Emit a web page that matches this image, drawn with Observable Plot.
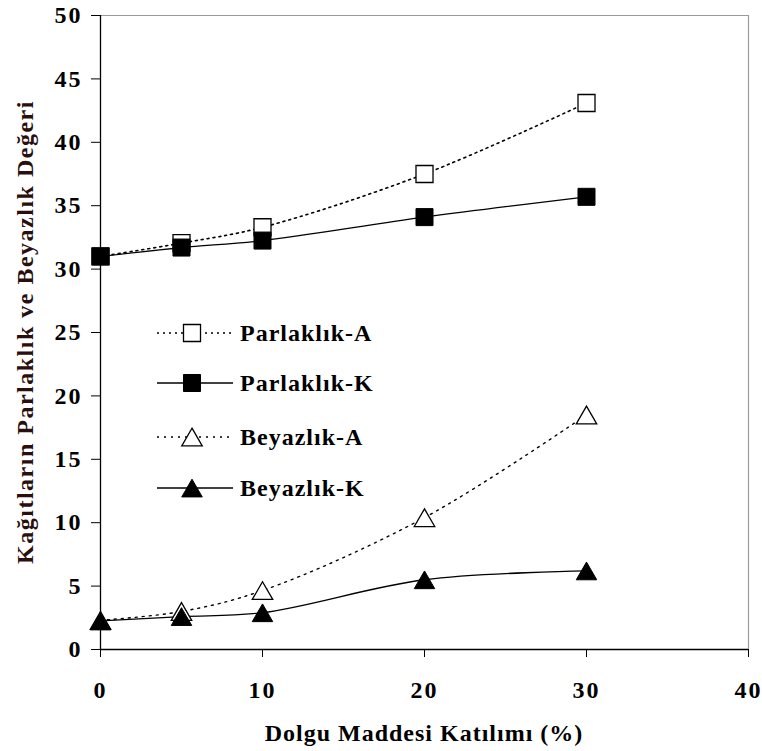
<!DOCTYPE html>
<html>
<head>
<meta charset="utf-8">
<script src="https://cdn.jsdelivr.net/npm/d3@7"></script>
<script src="https://cdn.jsdelivr.net/npm/@observablehq/plot@0.6"></script>
<style>
  html, body { margin: 0; padding: 0; background: #fff; }
  #wrap { position: relative; width: 762px; height: 751px; }
  #overlay { position: absolute; left: 0; top: 0; }
</style>
</head>
<body>
<div id="wrap"></div>
<script>
// ---- data ----
const xValues = [0, 5, 10, 20, 30];
const parlaklikA = [31.0, 32.05, 33.3, 37.5, 43.1];
const parlaklikK = [31.0, 31.7, 32.25, 34.1, 35.7];
const beyazlikA = [2.3, 3.0, 4.65, 10.4, 18.5];
const beyazlikK = [2.25, 2.6, 2.9, 5.5, 6.2];
const seriesNames = ["Parlaklık-A", "Parlaklık-K", "Beyazlık-A", "Beyazlık-K"];
const xTicks = [0, 10, 20, 30, 40];
const yTicks = [0, 5, 10, 15, 20, 25, 30, 35, 40, 45, 50];
const xLabel = "Dolgu Maddesi Katılımı (%)";
const yLabel = "Kağıtların Parlaklık ve Beyazlık Değeri";

const toRows = (vals, name) => xValues.map((x, i) => ({x, y: vals[i], series: name}));
const pA = toRows(parlaklikA, seriesNames[0]);
const pK = toRows(parlaklikK, seriesNames[1]);
const bA = toRows(beyazlikA, seriesNames[2]);
const bK = toRows(beyazlikK, seriesNames[3]);

const font = "'Liberation Serif', 'Times New Roman', serif";
const triDy = 3;

const chart = Plot.plot({
  width: 762,
  height: 751,
  marginLeft: 100,
  marginRight: 14,
  marginTop: 15,
  marginBottom: 102,
  style: {fontFamily: font, fontSize: "24px", fontWeight: "bold", color: "#000", background: "#fff", letterSpacing: "2px"},
  x: {domain: [0, 40]},
  y: {domain: [0, 50]},
  marks: [
    Plot.ruleY([50], {stroke: "#9a9a9a", strokeWidth: 1.2}),
    Plot.ruleX([40], {stroke: "#9a9a9a", strokeWidth: 1.2}),
    Plot.axisX({ticks: xTicks, tickSize: 8, tickPadding: 23, tickFormat: d => d, stroke: "#000", label: null,
      fontSize: 24, fontWeight: "bold", fill: "#000"}),
    Plot.axisY({ticks: yTicks, tickSize: 9, tickPadding: 9, tickFormat: d => d, stroke: "#000", label: null,
      fontSize: 24, fontWeight: "bold", fill: "#000"}),
    Plot.ruleX([0], {stroke: "#000", strokeWidth: 1.3}),
    Plot.ruleY([0], {stroke: "#000", strokeWidth: 1.3}),
    Plot.line(pA, {x: "x", y: "y", curve: "catmull-rom", stroke: "#000", strokeWidth: 1.6, strokeDasharray: "2,4"}),
    Plot.line(pK, {x: "x", y: "y", curve: "catmull-rom", stroke: "#000", strokeWidth: 1.3}),
    Plot.line(bA, {x: "x", y: "y", curve: "catmull-rom", stroke: "#000", strokeWidth: 1.4, strokeDasharray: "2,5"}),
    Plot.line(bK, {x: "x", y: "y", curve: "catmull-rom", stroke: "#000", strokeWidth: 1.3}),
    Plot.dot(pA, {x: "x", y: "y", symbol: "square", r: 9.6, fill: "#fff", stroke: "#000", strokeWidth: 1.3}),
    Plot.dot(pK, {x: "x", y: "y", symbol: "square", r: 9.6, fill: "#000", stroke: "#000", strokeWidth: 1}),
    Plot.dot(bA, {x: "x", y: "y", symbol: "triangle", r: 7.6, dy: triDy, fill: "#fff", stroke: "#000", strokeWidth: 1.3}),
    Plot.dot(bK, {x: "x", y: "y", symbol: "triangle", r: 7.6, dy: triDy, fill: "#000", stroke: "#000", strokeWidth: 1})
  ]
});
document.getElementById("wrap").appendChild(chart);

// ---- overlay: axis titles and legend ----
const svg = d3.select("#wrap").append("svg")
  .attr("id", "overlay").attr("width", 762).attr("height", 751)
  .style("font-family", font).style("font-weight", "bold").style("letter-spacing", "1px");

svg.append("text").attr("x", 424).attr("y", 733).attr("dy", "0.35em")
  .attr("text-anchor", "middle").attr("font-size", 24).attr("fill", "#000").text(xLabel);
svg.append("text").attr("transform", "translate(25,332) rotate(-90)").attr("dy", "0.35em")
  .attr("text-anchor", "middle").attr("font-size", 24).attr("fill", "#2a0f0f")
  .style("letter-spacing", "1.5px").text(yLabel);

const legendItems = [
  {name: seriesNames[0], dash: "2,4", sw: 1.6, symbol: d3.symbolSquare, fill: "#fff"},
  {name: seriesNames[1], dash: null, sw: 1.3, symbol: d3.symbolSquare, fill: "#000"},
  {name: seriesNames[2], dash: "2,5", sw: 1.4, symbol: d3.symbolTriangle, fill: "#fff"},
  {name: seriesNames[3], dash: null, sw: 1.3, symbol: d3.symbolTriangle, fill: "#000"}
];
const rowY = [333, 383, 437, 488];
legendItems.forEach((it, i) => {
  const g = svg.append("g").attr("transform", `translate(0,${rowY[i]})`);
  g.append("line").attr("x1", 157).attr("x2", 233).attr("y1", 0).attr("y2", 0)
    .attr("stroke", "#000").attr("stroke-width", it.sw).attr("stroke-dasharray", it.dash);
  const isTri = it.symbol === d3.symbolTriangle;
  const size = isTri ? Math.PI * 7.6 * 7.6 : Math.PI * 9.6 * 9.6;
  g.append("path").attr("d", d3.symbol(it.symbol, size)())
    .attr("transform", `translate(192,${isTri ? triDy : 0})`)
    .attr("fill", it.fill).attr("stroke", "#000").attr("stroke-width", it.fill === "#fff" ? 1.3 : 1);
  g.append("text").attr("x", 240).attr("y", 0).attr("dy", "0.35em")
    .attr("font-size", 24).attr("fill", "#000")
    .text(it.name);
});
</script>
</body>
</html>
